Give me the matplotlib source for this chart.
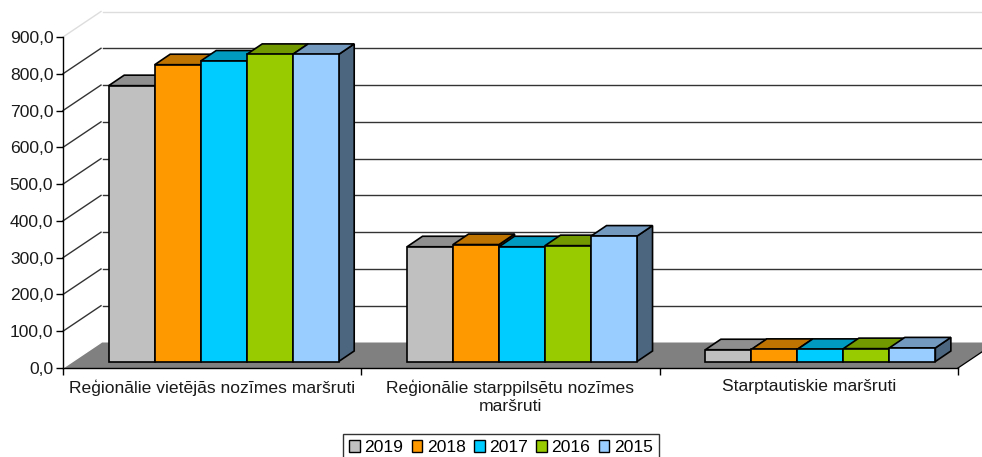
import matplotlib
matplotlib.use("Agg")
import matplotlib.pyplot as plt
from matplotlib.patches import Polygon, Patch

plt.rcParams['font.family'] = ['Liberation Sans', 'DejaVu Sans']

# Data
categories = ["Reģionālie vietējās nozīmes maršruti",
              "Reģionālie starppilsētu nozīmes\nmaršruti",
              "Starptautiskie maršruti"]
years = ["2019", "2018", "2017", "2016", "2015"]
v2019 = [750, 312, 32]
v2018 = [807, 318, 33]
v2017 = [817, 312, 33]
v2016 = [835, 315, 35]
v2015 = [835, 341, 37]
series = [v2019, v2018, v2017, v2016, v2015]

front_cols = ['#c0c0c0', '#ff9900', '#00ccff', '#99cc00', '#99ccff']
top_cols = ['#8f8f8f', '#bf7300', '#0099bf', '#739900', '#7399bf']
side_cols = ['#606060', '#804d00', '#006680', '#4d6600', '#4d6680']
y_ticks = list(range(0, 901, 100))

W, H = 982, 457
fig = plt.figure(figsize=(W / 100, H / 100), dpi=100)
# axes box = the front plane of the 3D chart (pixels 63..958, 368..37)
ax = fig.add_axes([63 / W, 1 - 368 / H, (958 - 63) / W, (368 - 37) / H])
ax.set_xlim(0, 3)
ax.set_ylim(0, 900)
ax.patch.set_visible(False)

# one pixel in data units
px = 3 / (958 - 63)
py = 900 / (368 - 37)
wall_dx, wall_dy = 38 * px, 25.5 * py
bar_dx, bar_dy = 15.5 * px, 10.5 * py
bar_w = 46 * px
bar_start = 45.7 * px
bar_base = 6.5 * py

# floor
ax.add_patch(Polygon([(0, 0), (wall_dx, wall_dy), (3 + wall_dx, wall_dy), (3, 0)],
                     closed=True, fc='#808080', ec='none', clip_on=False, zorder=1))
ax.plot([0, wall_dx], [0, wall_dy], color='white', lw=1, clip_on=False, zorder=1.5)
ax.plot([3, 3 + wall_dx], [0, wall_dy], color='black', lw=0.9, clip_on=False, zorder=1.5)

# back wall lines and the diagonals on the left side wall
for t in y_ticks[1:]:
    c = '#dddddd' if t == 900 else '#333333'
    ax.plot([0, wall_dx], [t, t + wall_dy], color=c, lw=1, clip_on=False, zorder=1)
    ax.plot([wall_dx + 2 * px, 3 + wall_dx], [t + wall_dy, t + wall_dy], color=c, lw=1,
            clip_on=False, zorder=1)

# bars, left to right so each one covers the side of the previous
for c in range(len(categories)):
    for i, vals in enumerate(series):
        x0 = c + bar_start + i * bar_w
        x1 = x0 + bar_w
        y0 = bar_base
        y1 = bar_base + vals[c]
        front = [(x0, y0), (x1, y0), (x1, y1), (x0, y1)]
        top = [(x0, y1), (x1, y1), (x1 + bar_dx, y1 + bar_dy), (x0 + bar_dx, y1 + bar_dy)]
        side = [(x1, y0), (x1 + bar_dx, y0 + bar_dy), (x1 + bar_dx, y1 + bar_dy), (x1, y1)]
        z = 3 + i * 0.1
        ax.add_patch(Polygon(side, closed=True, fc=side_cols[i], ec='black', lw=1.2,
                             clip_on=False, zorder=z))
        ax.add_patch(Polygon(top, closed=True, fc=top_cols[i], ec='black', lw=1.2,
                             clip_on=False, zorder=z))
        ax.add_patch(Polygon(front, closed=True, fc=front_cols[i], ec='black', lw=1.2,
                             clip_on=False, zorder=z))

# axes
for s in ['top', 'right']:
    ax.spines[s].set_visible(False)
for s in ['left', 'bottom']:
    ax.spines[s].set_linewidth(1)
    ax.spines[s].set_zorder(2)
ax.set_yticks(y_ticks)
ax.set_yticklabels([f"{t:.1f}".replace('.', ',') for t in y_ticks], fontsize=12.6, color='#1a1a1a')
ax.set_xticks([0, 1, 2, 3])
ax.set_xticklabels([])
ax.set_xticks([0.5, 1.5, 2.5], labels=categories, minor=True, fontsize=12.6, color='#1a1a1a',
              linespacing=1.25, va='top')
ax.tick_params(axis='x', which='major', length=5, width=1)
ax.tick_params(axis='x', which='minor', length=0, pad=8)
ax.tick_params(axis='y', length=5, width=1, pad=2)

# legend
handles = [Patch(fc=front_cols[i], ec='black', lw=1, label=years[i]) for i in range(len(years))]
leg = fig.legend(handles=handles, ncol=5, loc='upper left', bbox_to_anchor=(343 / W, 1 - 434 / H),
                 frameon=True, fancybox=False, edgecolor='#333333', framealpha=1, fontsize=12.6,
                 handlelength=0.62, handleheight=0.62, handletextpad=0.25, columnspacing=0.47,
                 borderpad=0.35, borderaxespad=0)
leg.get_frame().set_linewidth(1)

fig.savefig("out.png", dpi=100)
